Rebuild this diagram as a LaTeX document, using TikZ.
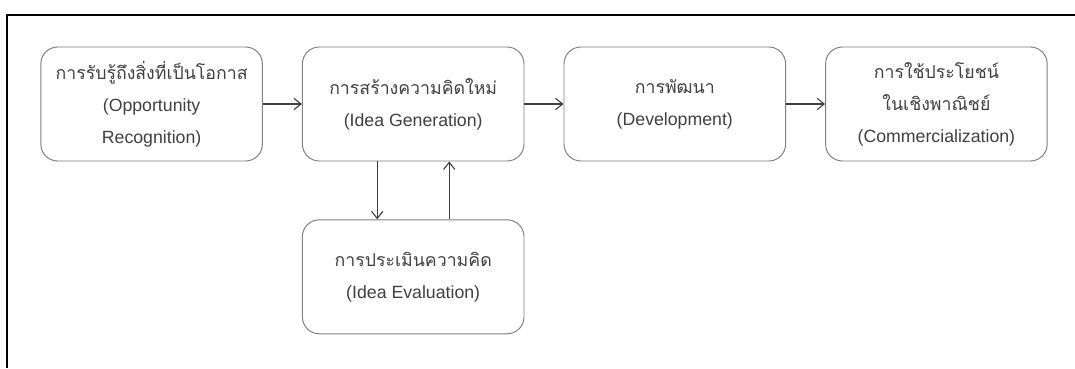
\documentclass[tikz,border=0pt]{standalone}
\usepackage{fontspec}
\setmainfont{Liberation Sans}
\newfontfamily\thaifont[Script=Thai]{Loma}
\usetikzlibrary{arrows.meta}

\begin{document}
\begin{tikzpicture}[
    >={Straight Barb[length=5pt,width=8pt]},
    arr/.style={->, draw=black!75, line width=0.8pt},
    stagebox/.style={draw=black!50, line width=0.7pt, rounded corners=12pt,
        minimum width=5.54cm, minimum height=2.85cm, align=center,
        text=black!75, font=\fontsize{12.6}{22.7}\selectfont},
    frameline/.style={line width=1.6pt, draw=black}
]
\useasboundingbox (0,0) rectangle (26.875,9.2);

% outer frame (right and bottom sides run off the page)
\draw[frameline] (0.18,0) |- (26.875,8.83);

\node[stagebox] (recog) at (3.79,6.6)
    {{\thaifont การรับรู้ถึงสิ่งที่เป็นโอกาส}\\(Opportunity\\Recognition)};
\node[stagebox] (idea)  at (10.33,6.6)
    {{\thaifont การสร้างความคิดใหม่}\\(Idea Generation)};
\node[stagebox] (devel) at (16.87,6.6)
    {{\thaifont การพัฒนา}\\(Development)};
\node[stagebox] (comm)  at (23.41,6.6)
    {{\thaifont การใช้ประโยชน์}\\{\thaifont ในเชิงพาณิชย์}\\(Commercialization)};

\node[stagebox] (eval)  at (10.33,2.28)
    {{\thaifont การประเมินความคิด}\\(Idea Evaluation)};

\draw[arr] (recog) -- (idea);
\draw[arr] (idea) -- (devel);
\draw[arr] (devel) -- (comm);

% feedback loop
\draw[arr] ([xshift=-0.9cm]idea.south) -- ([xshift=-0.9cm]eval.north);
\draw[arr] ([xshift=0.9cm]eval.north) -- ([xshift=0.9cm]idea.south);

\end{tikzpicture}
\end{document}
